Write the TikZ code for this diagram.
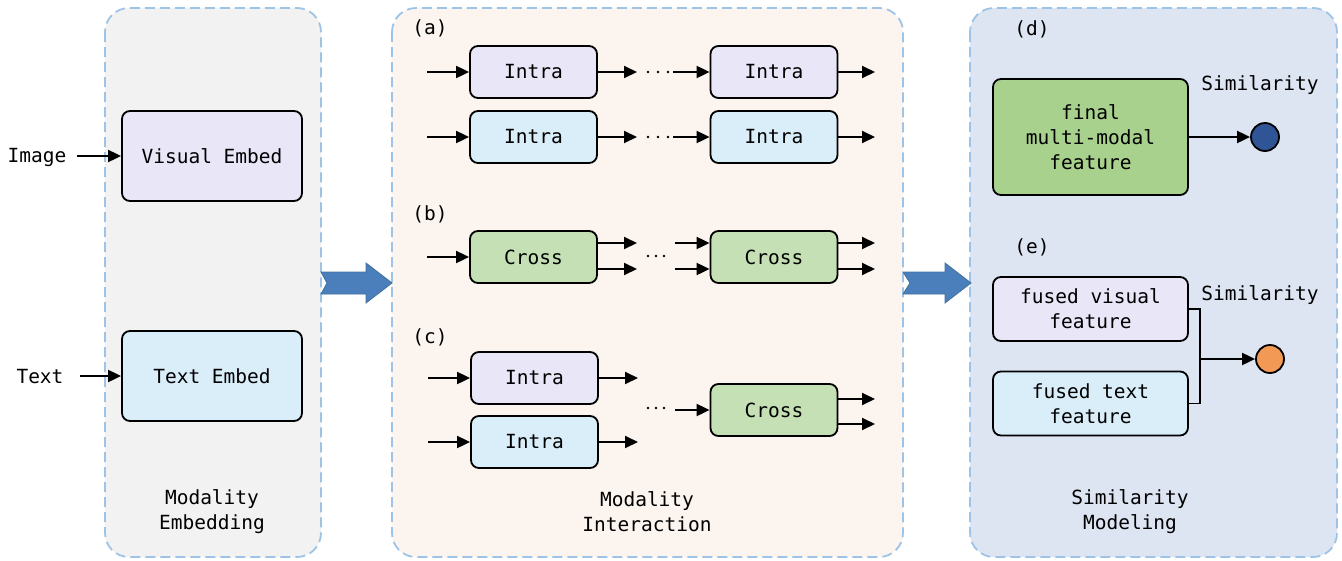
\documentclass[tikz,border=0pt]{standalone}
\usepackage{fontspec}
\setmonofont{DejaVu Sans Mono}
\usetikzlibrary{arrows.meta}
\definecolor{dashblue}{HTML}{9DC3E6}
\definecolor{panelgray}{HTML}{F2F2F2}
\definecolor{panelpeach}{HTML}{FCF4EF}
\definecolor{panelblue}{HTML}{DEE5F2}
\definecolor{lav}{HTML}{E8E6F7}
\definecolor{lblue}{HTML}{DAEEF9}
\definecolor{gcross}{HTML}{C5E0B4}
\definecolor{gfinal}{HTML}{A9D18E}
\definecolor{dblue}{HTML}{2F5597}
\definecolor{orng}{HTML}{F29A55}
\definecolor{barrow}{HTML}{4A7FBB}
\definecolor{barrowedge}{HTML}{41719C}
\begin{document}
\begin{tikzpicture}[x=1pt,y=-1pt,
  font=\ttfamily\fontsize{19.5}{25}\selectfont,
  panel/.style={draw=dashblue, dash pattern=on 10pt off 5pt, line width=1.8pt, rounded corners=24pt},
  box/.style={draw=black, line width=1.8pt, rounded corners=8pt, inner sep=0pt, align=center},
  smallbox/.style={box, minimum width=127pt, minimum height=52pt},
  arr/.style={-{Triangle[length=13pt,width=12pt]}, line width=1.9pt},
  conn/.style={line width=1.9pt},
  blockarrow/.style={fill=barrow, draw=barrowedge, line width=0.8pt},
  lbl/.style={inner sep=0pt},
  dotmark/.style={circle, fill=black, inner sep=0pt, minimum size=2.8pt}
]
\useasboundingbox (0,0) rectangle (1342,560);

% panels
\draw[panel, fill=panelgray] (105,8) rectangle (321,557);
\draw[panel, fill=panelpeach] (392,8) rectangle (903,557);
\draw[panel, fill=panelblue] (970,8) rectangle (1337,557);

% block arrows
\draw[blockarrow] (321,272) -- (366,272) -- (366,263) -- (392,283) -- (366,303) -- (366,294) -- (321,294) -- (327,283) -- cycle;
\draw[blockarrow] (903,272) -- (945,272) -- (945,263) -- (971,283) -- (945,303) -- (945,294) -- (903,294) -- (910,283) -- cycle;

% panel 1
\node[box, fill=lav, minimum width=180pt, minimum height=90pt] (ve) at (212,156) {Visual Embed};
\node[box, fill=lblue, minimum width=180pt, minimum height=90pt] (te) at (212,376) {Text Embed};
\node[lbl] (img) at (37,157) {Image};
\node[lbl] (txt) at (40,377) {Text};
\coordinate (imgs) at (77,156);
\coordinate (txts) at (80,376);
\draw[arr] (imgs) -- (ve.west);
\draw[arr] (txts) -- (te.west);
\node[lbl, align=center] (me) at (212,512) {Modality\\Embedding};

% panel 2 labels
\node[lbl] (la) at (430,28) {(a)};
\node[lbl] (lb) at (430,214) {(b)};
\node[lbl] (lc) at (430,337) {(c)};
\node[lbl, align=center] (mi) at (647,512) {Modality\\Interaction};

% (a)
\node[smallbox, fill=lav] (a1l) at (533.5,72) {Intra};
\node[smallbox, fill=lav] (a1r) at (774,72) {Intra};
\node[smallbox, fill=lblue] (a2l) at (533.5,137) {Intra};
\node[smallbox, fill=lblue] (a2r) at (774,137) {Intra};
\foreach \r/\y in {a1/72, a2/137}{
  \coordinate (\r in) at (427,\y);
  \coordinate (\r mid) at (637,\y);
  \coordinate (\r next) at (673,\y);
  \coordinate (\r out) at (875,\y);
  \draw[arr] (\r in) -- (\r l.west);
  \draw[arr] (\r l.east) -- (\r mid);
  \draw[arr] (\r next) -- (\r r.west);
  \draw[arr] (\r r.east |- \r out) -- (\r out);
  \node[dotmark] (\r d1) at (648,\y) {};
  \node[dotmark] (\r d2) at (658,\y) {};
  \node[dotmark] (\r d3) at (668,\y) {};
}

% (b)
\node[smallbox, fill=gcross] (bl) at (533.5,257) {Cross};
\node[smallbox, fill=gcross] (br) at (774,257) {Cross};
\coordinate (bin) at (427,257);
\draw[arr] (bin) -- (bl.west);
\foreach \y/\n in {243/u, 269/v}{
  \coordinate (bo\n) at (637,\y);
  \coordinate (bi\n) at (675,\y);
  \coordinate (bf\n) at (875,\y);
  \draw[arr] (bl.east |- bo\n) -- (bo\n);
  \draw[arr] (bi\n) -- (br.west |- bi\n);
  \draw[arr] (br.east |- bf\n) -- (bf\n);
}
\node[dotmark] (bd1) at (648,256) {};
\node[dotmark] (bd2) at (656,256) {};
\node[dotmark] (bd3) at (664,256) {};

% (c)
\node[smallbox, fill=lav] (c1) at (534.5,378) {Intra};
\node[smallbox, fill=lblue] (c2) at (534.5,442) {Intra};
\node[smallbox, fill=gcross] (cc) at (774,410) {Cross};
\foreach \n/\y in {c1/378, c2/442}{
  \coordinate (\n in) at (428,\y);
  \coordinate (\n out) at (638,\y);
  \draw[arr] (\n in) -- (\n.west);
  \draw[arr] (\n.east) -- (\n out);
}
\coordinate (ccin) at (675,410);
\draw[arr] (ccin) -- (cc.west);
\node[dotmark] (cd1) at (648,408) {};
\node[dotmark] (cd2) at (656,408) {};
\node[dotmark] (cd3) at (664,408) {};
\foreach \y/\n in {399/u, 424/v}{
  \coordinate (cf\n) at (875,\y);
  \draw[arr] (cc.east |- cf\n) -- (cf\n);
}

% panel 3
\node[lbl] (ld) at (1032,29) {(d)};
\node[lbl] (le) at (1032,247) {(e)};
\node[box, fill=gfinal, minimum width=195pt, minimum height=116pt] (fin) at (1090.5,137) {final\\multi-modal\\feature};
\node[circle, draw=black, line width=1.8pt, fill=dblue, minimum size=28pt, inner sep=0pt] (cd) at (1265,137) {};
\node[lbl] (simd) at (1260,85) {Similarity};
\draw[arr] (fin.east) -- (cd.west);

\node[box, fill=lav, minimum width=195pt, minimum height=64pt] (fv) at (1090.5,309) {fused visual\\feature};
\node[box, fill=lblue, minimum width=195pt, minimum height=64pt] (ft) at (1090.5,403.5) {fused text\\feature};
\node[circle, draw=black, line width=1.8pt, fill=orng, minimum size=28pt, inner sep=0pt] (ce) at (1270,359) {};
\node[lbl] (sime) at (1260,295) {Similarity};
\coordinate (jt) at (1200,309);
\coordinate (jb) at (1200,403.5);
\coordinate (jm) at (1200,359);
\draw[conn] (fv.east) -- (jt) -- (jb) -- (ft.east);
\draw[arr] (jm) -- (ce.west);
\node[lbl, align=center] (sm) at (1130,512) {Similarity\\Modeling};
\end{tikzpicture}
\end{document}
